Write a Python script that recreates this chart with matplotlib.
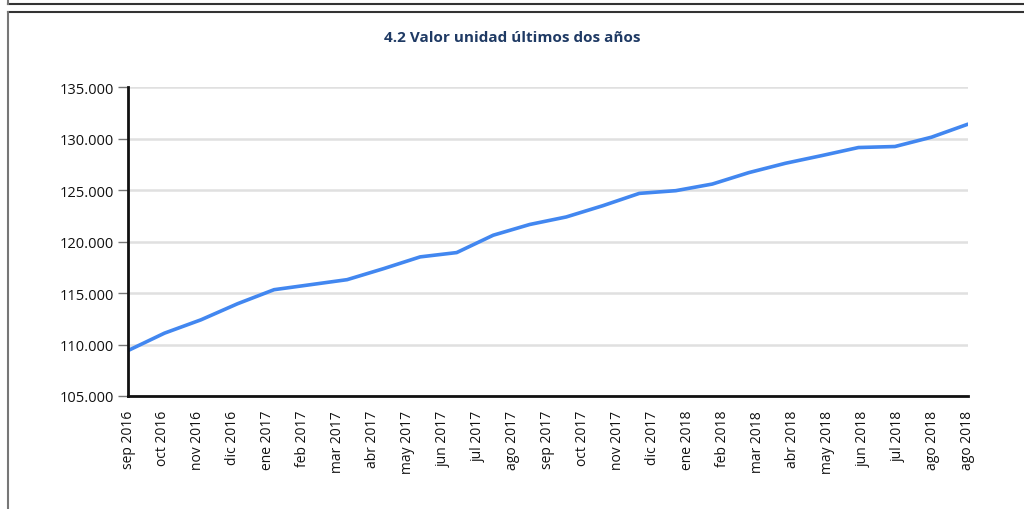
import numpy as np
import matplotlib.pyplot as plt
from matplotlib.lines import Line2D
from matplotlib.ticker import FuncFormatter

# valor unidad, sep 2016 - ago 2018 (24 meses)
valores = [109415, 111112, 112410, 113971, 115337, 115824, 116312, 117385,
           118527, 118946, 120634, 121678, 122410, 123502, 124702, 124966,
           125610, 126722, 127629, 128380, 129161, 129259, 130166, 131434]
# etiquetas del eje (25, la ultima repetida como en el original)
etiquetas = ['sep 2016', 'oct 2016', 'nov 2016', 'dic 2016', 'ene 2017', 'feb 2017',
             'mar 2017', 'abr 2017', 'may 2017', 'jun 2017', 'jul 2017', 'ago 2017',
             'sep 2017', 'oct 2017', 'nov 2017', 'dic 2017', 'ene 2018', 'feb 2018',
             'mar 2018', 'abr 2018', 'may 2018', 'jun 2018', 'jul 2018', 'ago 2018',
             'ago 2018']
y_ticks = [105000, 110000, 115000, 120000, 125000, 130000, 135000]

plt.rcParams['font.family'] = ['Open Sans', 'DejaVu Sans']

fig = plt.figure(figsize=(10.24, 5.10), dpi=100)
ax = fig.add_axes([0.125, 0.2216, 0.8203, 0.6049])

x = np.arange(len(valores))
ax.plot(x, valores, color='#4287f0', lw=2.6, solid_capstyle='round', zorder=3)

ax.set_xlim(0, len(valores) - 1)
ax.set_ylim(105000, 135000)
ax.set_yticks(y_ticks)
ax.yaxis.set_major_formatter(FuncFormatter(lambda v, p: f'{int(v):,}'.replace(',', '.')))
ax.set_xticks(np.linspace(0, len(valores) - 1, len(etiquetas)))
ax.set_xticklabels(etiquetas, rotation=90, fontsize=10, color='#111111')
ax.tick_params(axis='x', length=0, pad=10)
ax.tick_params(axis='y', length=7, width=1, color='#777777', labelsize=10.5, labelcolor='#111111', pad=3)

ax.grid(axis='y', color='#e0e0e0', lw=1.8)
ax.set_axisbelow(True)
for s in ['top', 'right']:
    ax.spines[s].set_visible(False)
for s in ['left', 'bottom']:
    ax.spines[s].set_linewidth(2)
    ax.spines[s].set_color('#111111')
    ax.spines[s].set_zorder(4)

fig.text(0.5, 0.925, '4.2 Valor unidad últimos dos años', ha='center', va='center',
         fontsize=11, fontweight='bold', color='#1f3a64')

# marcos de la pagina
h = 510.0
fig.add_artist(Line2D([8 / 1024, 1], [1 - 5 / h, 1 - 5 / h], color='#333333', lw=1.5))
fig.add_artist(Line2D([8 / 1024, 8 / 1024], [1, 1 - 5 / h], color='#777777', lw=1.5))
fig.add_artist(Line2D([8 / 1024, 1], [1 - 13 / h, 1 - 13 / h], color='#333333', lw=1.5))
fig.add_artist(Line2D([8 / 1024, 8 / 1024], [1 - 13 / h, 0], color='#777777', lw=1.5))

plt.savefig('out.png', dpi=100)
